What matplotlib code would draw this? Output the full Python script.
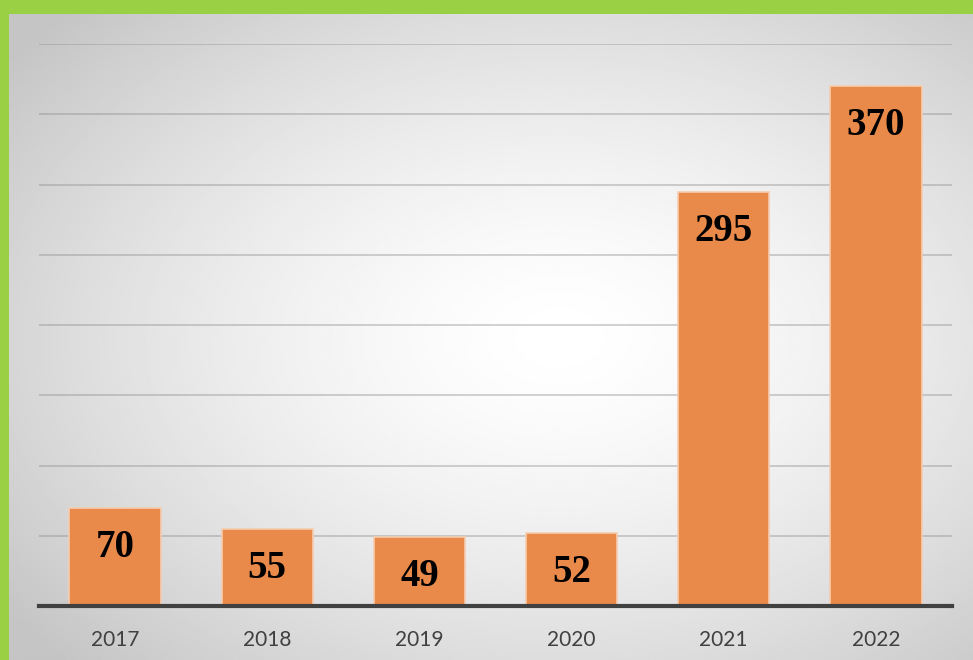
import numpy as np
import matplotlib.pyplot as plt

years = ['2017', '2018', '2019', '2020', '2021', '2022']
values = [70, 55, 49, 52, 295, 370]
grid_levels = [50, 100, 150, 200, 250, 300, 350, 400]

W, H = 973, 660
fig = plt.figure(figsize=(W / 100, H / 100), dpi=100)
fig.patch.set_facecolor('#9AD144')

# radial gradient background (light in the middle, grey at the edges)
bg = fig.add_axes([9 / W, 0, 1 - 9 / W, 1 - 14 / H])
ny, nx = 300, 440
yy, xx = np.mgrid[0:ny, 0:nx]
cx, cy = nx * 0.57, ny * 0.50
r = np.sqrt(((xx - cx) / nx) ** 2 + ((yy - cy) / ny) ** 2) / 0.72
shade = 1.0 - 0.23 * np.clip(r, 0, 1) ** 1.5
bg.imshow(shade, cmap='gray', vmin=0, vmax=1, aspect='auto',
          extent=[0, 1, 0, 1], interpolation='bilinear')
bg.set_axis_off()

ax = fig.add_axes([39 / W, (H - 606) / H, (952 - 39) / W, (606 - 44) / H])
ax.patch.set_alpha(0)

x = np.arange(len(years))
bars = ax.bar(x, values, width=0.6, color='#E98A4A', edgecolor='#F6CDB0',
              linewidth=1.2, zorder=3)

for lvl in grid_levels:
    ax.axhline(lvl, color='#8a8a8a', alpha=0.45, linewidth=1.2, zorder=1)
ax.axhline(0, color='#404040', linewidth=3, zorder=4, clip_on=False)

for b, v in zip(bars, values):
    ax.annotate(str(v), (b.get_x() + b.get_width() / 2, v),
                xytext=(0, -28.5), textcoords='offset points',
                ha='center', va='center', fontsize=28,
                family='Liberation Serif', weight='bold', color='black',
                zorder=5)

ax.set_xlim(-0.5, len(years) - 0.5)
ax.set_ylim(0, 400)
ax.set_xticks(x)
ax.set_xticklabels(years, fontsize=15, color='#404040', family='Lato')
ax.tick_params(axis='x', length=0, pad=17)
ax.set_yticks([])
for s in ax.spines.values():
    s.set_visible(False)

fig.savefig('out.png', dpi=100, facecolor=fig.get_facecolor())
